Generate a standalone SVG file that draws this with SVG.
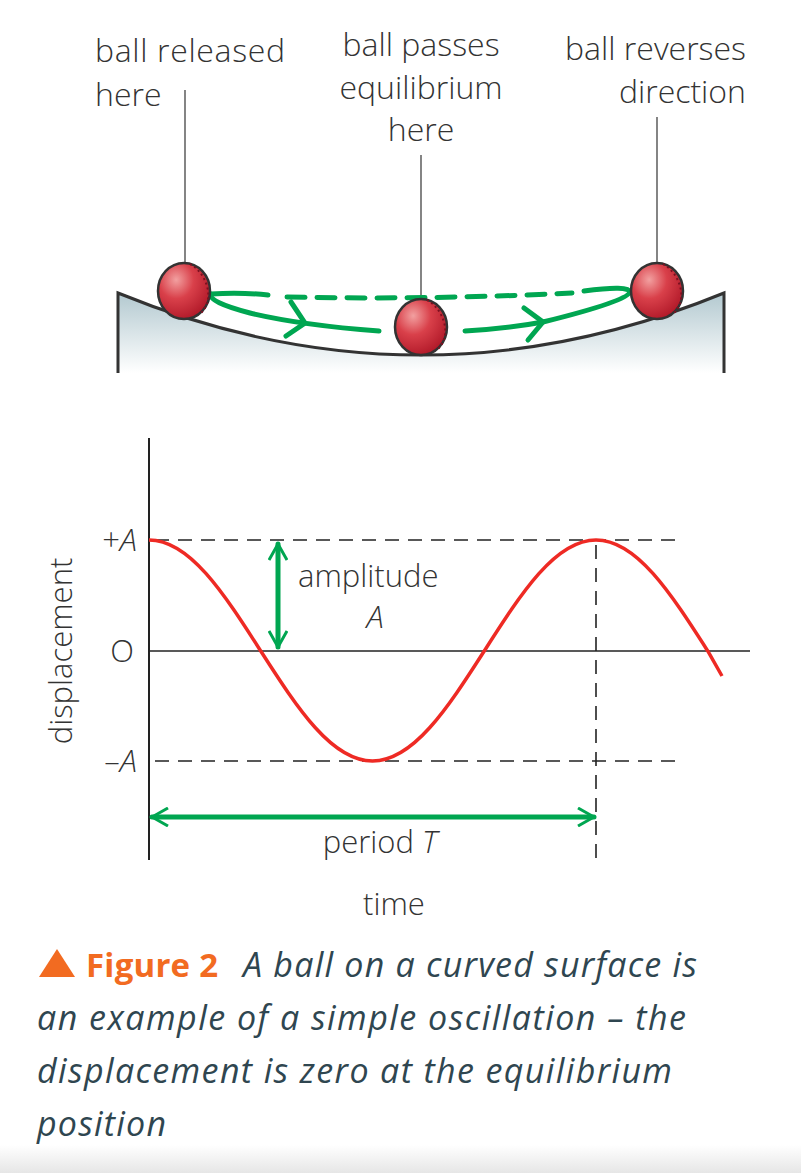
<svg xmlns="http://www.w3.org/2000/svg" width="801" height="1173" viewBox="0 0 801 1173">
<defs>
<linearGradient id="bowl" x1="0" y1="0" x2="0" y2="1"><stop offset="0" stop-color="#b3c9d0"/><stop offset="1" stop-color="#ffffff"/></linearGradient>
<radialGradient id="ballg" cx="0.35" cy="0.3" r="0.75"><stop offset="0" stop-color="#f2a0a0"/><stop offset="0.45" stop-color="#d9404a"/><stop offset="1" stop-color="#b01828"/></radialGradient>
<linearGradient id="foot" x1="0" y1="0" x2="0" y2="1"><stop offset="0" stop-color="#fff"/><stop offset="1" stop-color="#e6e6e6"/></linearGradient>
<marker id="ah" viewBox="0 0 20 20" refX="18" refY="10" markerWidth="20" markerHeight="20" markerUnits="userSpaceOnUse" orient="auto-start-reverse"><path d="M2,1 L18,10 L2,19" fill="none" stroke="#00a651" stroke-width="3"/></marker>
</defs>
<style>
text{font-family:"Open Sans",Lato,sans-serif;fill:#333;font-weight:300}
.lbl{font-size:32px}
.ax{font-size:31px}
.it{font-style:italic}
.lead{stroke:#333;stroke-width:1.2}
.dash{stroke:#222;stroke-width:1.6;stroke-dasharray:14 9;fill:none}
.g{stroke:#00a651;stroke-width:5;fill:none;stroke-linecap:round}
.ball{fill:url(#ballg);stroke:#333;stroke-width:2.5}
.seam{fill:none;stroke:#7a1020;stroke-width:2;stroke-dasharray:2 3}
.cap{font-size:34px;font-style:italic;fill:#2f4650;font-weight:400}
</style>
<rect width="801" height="1173" fill="#fff"/>
<rect x="0" y="1145" width="801" height="28" fill="url(#foot)"/>
<g id="bowl-node">
<path d="M118,293 Q421,417 724,293 L724,373 L118,373 Z" fill="url(#bowl)"/>
<path d="M118,373 L118,293 Q421,417 724,293 L724,373" fill="none" stroke="#333" stroke-width="3"/>
</g>
<g id="labels-top">
<text class="lbl" x="95" y="62" textLength="190">ball released</text>
<text class="lbl" x="95" y="106">here</text>
<text class="lbl" x="421" y="56" text-anchor="middle">ball passes</text>
<text class="lbl" x="421" y="99" text-anchor="middle">equilibrium</text>
<text class="lbl" x="421" y="141" text-anchor="middle">here</text>
<text class="lbl" x="746" y="60" text-anchor="end">ball reverses</text>
<text class="lbl" x="746" y="103" text-anchor="end">direction</text>
</g>
<g id="connectors">
<line class="lead" x1="185" y1="90" x2="185" y2="265"/>
<line class="lead" x1="421" y1="155" x2="421" y2="300"/>
<line class="lead" x1="657" y1="117" x2="657" y2="265"/>
<path class="g" d="M211,294 Q240,292 268,295"/>
<path class="g" d="M287,297 Q430,300 572,293" stroke-dasharray="18 12"/>
<path class="g" d="M584,291 Q629,285 630,292 Q628,301 543,322 Q505,329 465,331"/>
<path class="g" d="M211,294 Q208,302 250,313 Q300,325 379,331"/>
<path class="g" d="M291,302 L305,323 L286,336"/>
<path class="g" d="M524,308 L543,322 L528,340"/>
</g>
<g id="ball-left"><ellipse class="ball" cx="184" cy="291" rx="26" ry="28"/><path class="seam" d="M190,264 Q204,272 208,290 Q210,305 200,314"/></g>
<g id="ball-mid"><ellipse class="ball" cx="421" cy="327" rx="26" ry="28"/><path class="seam" d="M427,300 Q441,308 445,326 Q447,341 437,350"/></g>
<g id="ball-right"><ellipse class="ball" cx="657" cy="291" rx="26" ry="28"/><path class="seam" d="M663,264 Q677,272 681,290 Q683,305 673,314"/></g>
<g id="graph">
<line x1="149" y1="438" x2="149" y2="860" stroke="#222" stroke-width="2"/>
<line x1="149" y1="651" x2="750" y2="651" stroke="#222" stroke-width="1.6"/>
<line class="dash" x1="155" y1="540" x2="680" y2="540"/>
<line class="dash" x1="155" y1="761" x2="680" y2="761"/>
<line class="dash" x1="596" y1="545" x2="596" y2="860"/>
<path d="M149,540 C189.6,540 223.5,592.9 260.75,651 S331.9,761 372.5,761 S447,709.1 484.25,651 S555.4,540 596,540 S670.5,592.9 707.75,651 L722,676" fill="none" stroke="#ee2a24" stroke-width="3.5"/>
<line class="g" x1="278" y1="544" x2="278" y2="647" stroke-width="3.5" marker-start="url(#ah)" marker-end="url(#ah)"/>
<line class="g" x1="152" y1="817" x2="594" y2="817" stroke-width="3.5" marker-start="url(#ah)" marker-end="url(#ah)"/>
<text class="ax" x="137" y="551" text-anchor="end">+<tspan class="it">A</tspan></text>
<text class="ax" x="134" y="662" text-anchor="end">O</text>
<text class="ax" x="137" y="772" text-anchor="end">–<tspan class="it">A</tspan></text>
<text class="ax" x="298" y="587">amplitude</text>
<text class="ax it" x="375" y="628" text-anchor="middle">A</text>
<text class="ax" x="380" y="853" text-anchor="middle">period <tspan class="it">T</tspan></text>
<text class="ax" x="394" y="915" text-anchor="middle">time</text>
<text class="ax" transform="translate(72,651) rotate(-90)" text-anchor="middle">displacement</text>
</g>
<g id="caption">
<polygon points="39,977 57,949 75,977" fill="#f26b21"/>
<text x="86" y="977" style="font-size:33px;font-weight:700;fill:#f26b21" textLength="132">Figure 2</text>
<text class="cap" x="243" y="977" textLength="454">A ball on a curved surface is</text>
<text class="cap" x="37" y="1030" textLength="649">an example of a simple oscillation – the</text>
<text class="cap" x="37" y="1083" textLength="635">displacement is zero at the equilibrium</text>
<text class="cap" x="37" y="1136" textLength="129">position</text>
</g>
</svg>
